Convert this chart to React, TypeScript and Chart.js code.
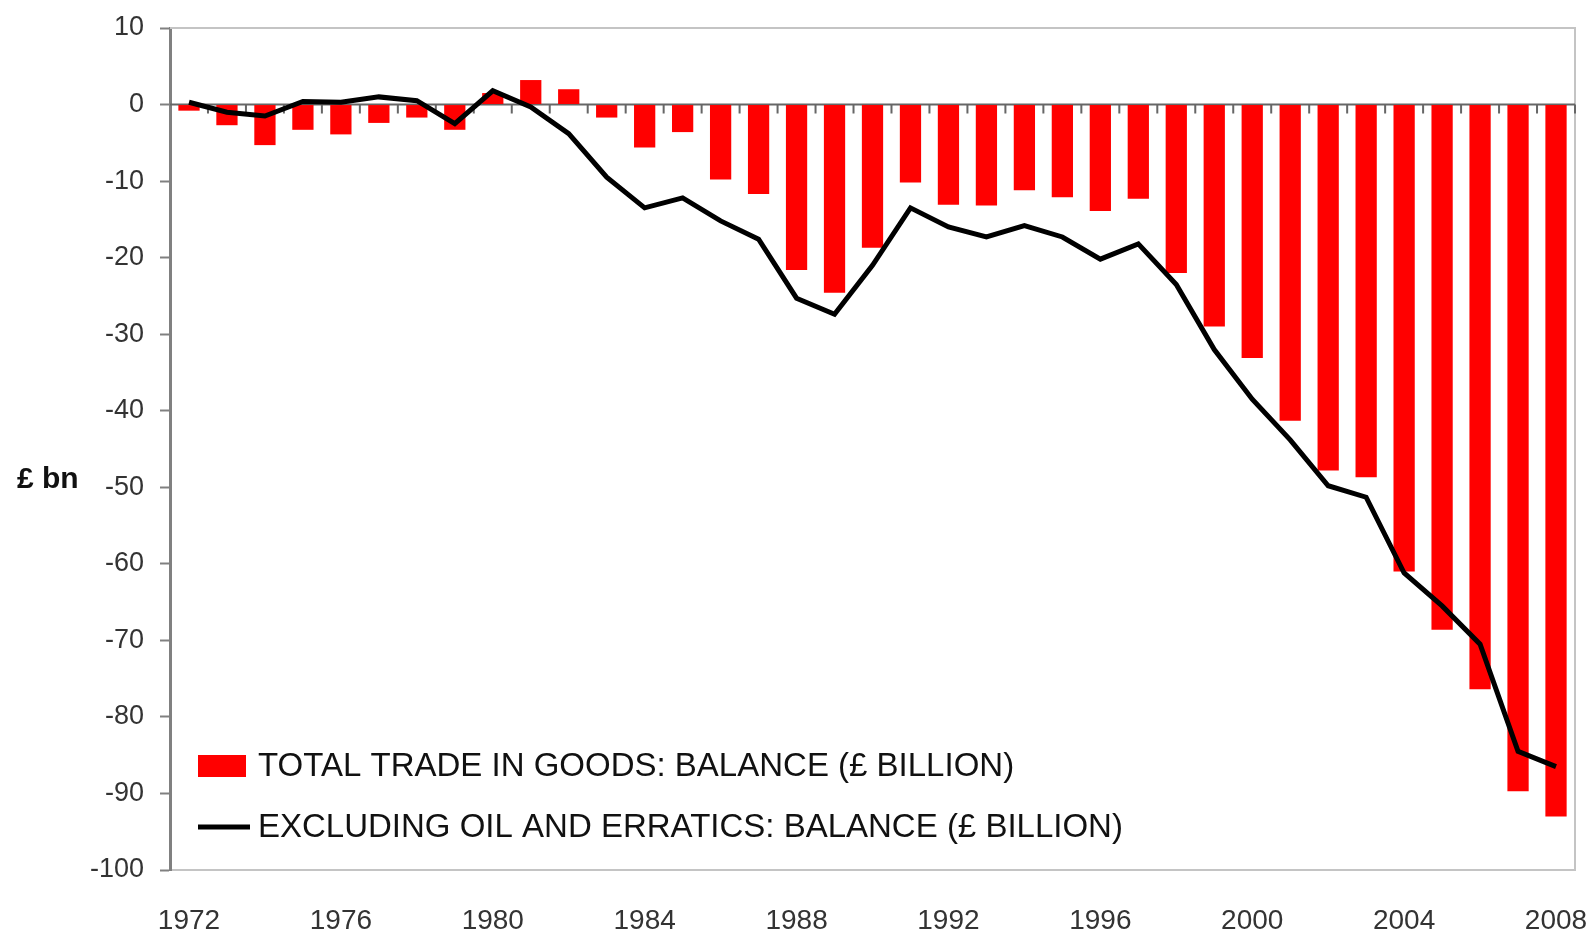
import React, { useEffect, useRef } from "react";
import { Chart, registerables } from "chart.js";

Chart.register(...registerables);

const years = [
  "1972", "1973", "1974", "1975", "1976", "1977", "1978", "1979", "1980", "1981",
  "1982", "1983", "1984", "1985", "1986", "1987", "1988", "1989", "1990", "1991",
  "1992", "1993", "1994", "1995", "1996", "1997", "1998", "1999", "2000", "2001",
  "2002", "2003", "2004", "2005", "2006", "2007", "2008",
];

const totalTradeBalance = [
  -0.8, -2.7, -5.3, -3.3, -3.9, -2.4, -1.7, -3.3, 1.5, 3.2,
  2.0, -1.7, -5.6, -3.6, -9.8, -11.7, -21.6, -24.6, -18.7, -10.2,
  -13.1, -13.2, -11.2, -12.1, -13.9, -12.3, -22.0, -29.0, -33.1, -41.3,
  -47.8, -48.7, -61.0, -68.6, -76.4, -89.7, -93.0,
];

const exOilErraticsBalance = [
  0.3, -1.0, -1.5, 0.4, 0.3, 1.0, 0.5, -2.5, 1.8, -0.3,
  -3.8, -9.5, -13.5, -12.2, -15.2, -17.6, -25.3, -27.4, -21.0, -13.5,
  -16.0, -17.3, -15.8, -17.3, -20.2, -18.2, -23.5, -32.0, -38.5, -43.8,
  -49.8, -51.3, -61.2, -65.5, -70.5, -84.5, -86.5,
];

const seriesLabels = [
  "TOTAL TRADE IN GOODS: BALANCE (£ BILLION)",
  "EXCLUDING OIL AND ERRATICS: BALANCE (£ BILLION)",
];

const yAxisTitle = "£ bn";
const yMin = -100;
const yMax = 10;
const yStep = 10;
const xLabelEvery = 4;

const FONT = "'Liberation Sans', Arial, sans-serif";

const framePlugin = {
  id: "frame",
  beforeDatasetsDraw(chart: any) {
    const { ctx, chartArea, scales } = chart;
    const x = scales.x;
    const y = scales.y;
    ctx.save();
    ctx.strokeStyle = "#c4c4c4";
    ctx.lineWidth = 2;
    ctx.beginPath();
    ctx.moveTo(chartArea.left, chartArea.top);
    ctx.lineTo(chartArea.right, chartArea.top);
    ctx.lineTo(chartArea.right, chartArea.bottom);
    ctx.stroke();
    const y0 = y.getPixelForValue(0);
    ctx.strokeStyle = "#666";
    ctx.lineWidth = 2;
    ctx.beginPath();
    ctx.moveTo(chartArea.left, y0);
    ctx.lineTo(chartArea.right, y0);
    ctx.stroke();
    const n = chart.data.labels.length;
    const w = n > 1 ? x.getPixelForValue(1) - x.getPixelForValue(0) : 0;
    ctx.beginPath();
    for (let i = 0; i < n; i++) {
      const bx = x.getPixelForValue(i) + w / 2;
      ctx.moveTo(bx, y0);
      ctx.lineTo(bx, y0 + 9);
    }
    ctx.stroke();
    ctx.restore();
  },
  afterDraw(chart: any) {
    const { ctx, chartArea, scales } = chart;
    const y = scales.y;
    ctx.save();
    ctx.font = `bold 30px ${FONT}`;
    ctx.fillStyle = "#111";
    ctx.textAlign = "left";
    ctx.textBaseline = "middle";
    ctx.fillText(yAxisTitle, 17, y.getPixelForValue(-50) - 8);

    const ds = chart.data.datasets;
    const lx = chartArea.left + 28;
    const tx = chartArea.left + 88;
    const row1 = chartArea.bottom - 104;
    const row2 = chartArea.bottom - 43;
    ctx.fillStyle = ds[1].backgroundColor;
    ctx.fillRect(lx, row1 - 11, 48, 22);
    ctx.strokeStyle = ds[0].borderColor;
    ctx.lineWidth = 5;
    ctx.beginPath();
    ctx.moveTo(lx, row2);
    ctx.lineTo(lx + 52, row2);
    ctx.stroke();
    ctx.font = `33px ${FONT}`;
    ctx.fillStyle = "#111";
    ctx.fillText(ds[1].label, tx, row1 + 1);
    ctx.fillText(ds[0].label, tx, row2 + 1);
    ctx.restore();
  },
};

export default function App() {
  const canvasRef = useRef<HTMLCanvasElement | null>(null);

  useEffect(() => {
    if (!canvasRef.current) return;
    const chart = new Chart(canvasRef.current, {
      type: "bar",
      data: {
        labels: years,
        datasets: [
          {
            type: "line",
            label: seriesLabels[1],
            data: exOilErraticsBalance,
            borderColor: "#000000",
            backgroundColor: "#000000",
            borderWidth: 5,
            pointRadius: 0,
            tension: 0,
            order: 0,
          } as any,
          {
            type: "bar",
            label: seriesLabels[0],
            data: totalTradeBalance,
            backgroundColor: "#ff0000",
            borderWidth: 0,
            barPercentage: 0.56,
            categoryPercentage: 1,
            order: 1,
          },
        ],
      },
      options: {
        animation: false,
        responsive: false,
        maintainAspectRatio: false,
        layout: { padding: { top: 28, right: 20, left: 0, bottom: 0 } },
        plugins: {
          legend: { display: false },
          tooltip: { enabled: false },
          title: { display: false },
        },
        scales: {
          x: {
            type: "category",
            offset: true,
            grid: { display: false, drawTicks: false },
            border: { display: true, color: "#c4c4c4", width: 2 },
            ticks: {
              autoSkip: false,
              maxRotation: 0,
              minRotation: 0,
              padding: 34,
              color: "#333",
              font: { family: FONT, size: 28 },
              callback: (_v: any, i: number) => (i % xLabelEvery === 0 ? years[i] : null),
            },
            afterFit: (s: any) => {
              s.height = 62;
              s.paddingLeft = 0;
              s.paddingRight = 0;
            },
          },
          y: {
            min: yMin,
            max: yMax,
            grid: {
              display: true,
              drawOnChartArea: false,
              drawTicks: true,
              tickLength: 10,
              tickColor: "#808080",
              tickWidth: 2,
            },
            border: { display: true, color: "#808080", width: 3 },
            ticks: {
              stepSize: yStep,
              padding: 16,
              color: "#333",
              font: { family: FONT, size: 27 },
            },
            afterFit: (s: any) => {
              s.width = 170;
              s.paddingTop = 0;
              s.paddingBottom = 0;
            },
          },
        },
      },
      plugins: [framePlugin],
    });
    return () => chart.destroy();
  }, []);

  return (
    <div style={{ position: "absolute", left: 0, top: 0, width: 1595, height: 932, background: "#fff" }}>
      <canvas ref={canvasRef} width={1595} height={932} style={{ width: 1595, height: 932, display: "block" }} />
    </div>
  );
}
